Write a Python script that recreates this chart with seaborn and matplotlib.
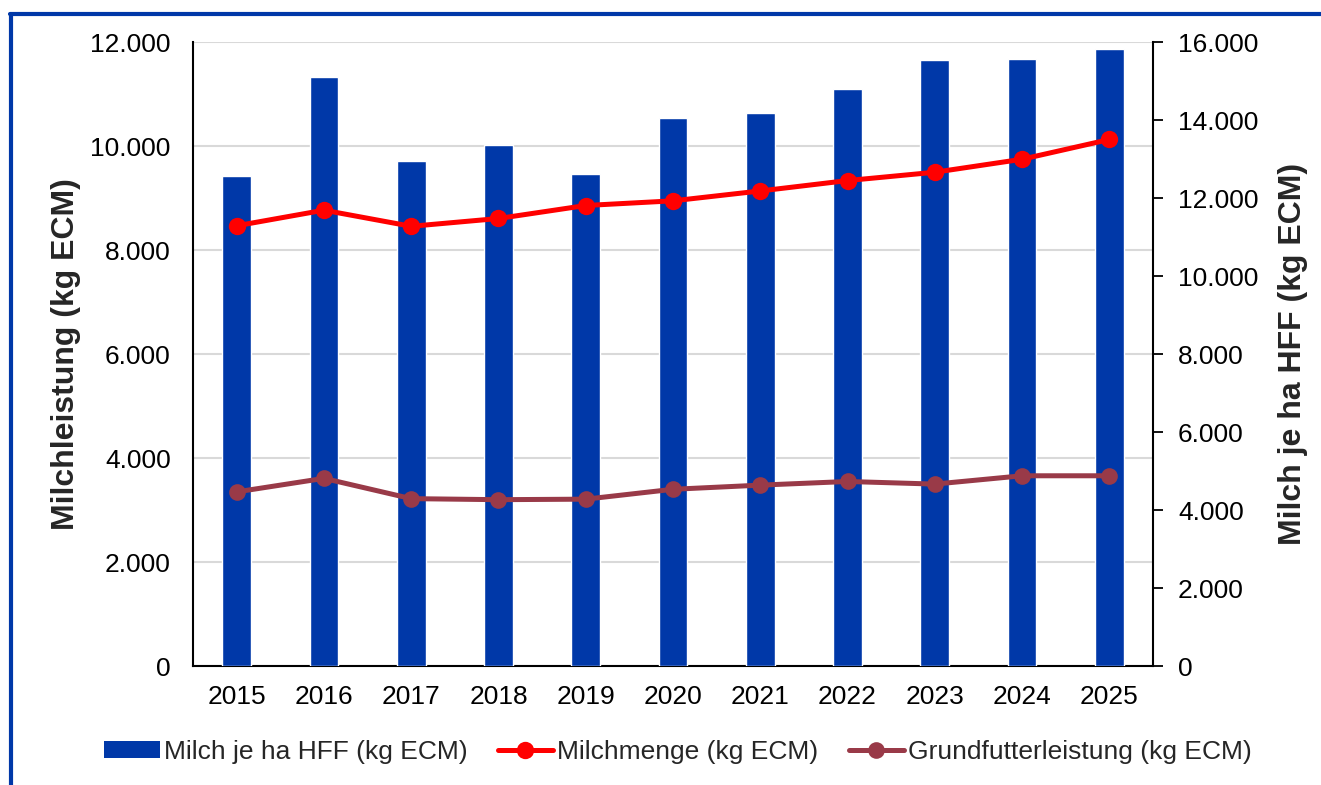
import numpy as np
import matplotlib
matplotlib.use("Agg")
import matplotlib.pyplot as plt
from matplotlib.ticker import FuncFormatter, MultipleLocator
from matplotlib.patches import Patch
from matplotlib.lines import Line2D
import seaborn as sns

# ---- data ----
years = ["2015", "2016", "2017", "2018", "2019", "2020", "2021", "2022", "2023", "2024", "2025"]
milch_je_ha = [12560, 15100, 12950, 13370, 12610, 14070, 14190, 14790, 15550, 15570, 15830]
milchmenge = [8470, 8770, 8460, 8610, 8860, 8950, 9140, 9340, 9500, 9750, 10130]
grundfutter = [3350, 3610, 3220, 3200, 3210, 3400, 3480, 3550, 3500, 3660, 3660]

label_bar = "Milch je ha HFF (kg ECM)"
label_red = "Milchmenge (kg ECM)"
label_brown = "Grundfutterleistung (kg ECM)"

c_bar = "#0038A8"
c_red = "#FF0000"
c_brown = "#993A48"

FS = 19

sns.set_style("white")
plt.rcParams["font.family"] = ["Liberation Sans", "DejaVu Sans"]

fig = plt.figure(figsize=(13.21, 7.85), dpi=100)
ax = fig.add_axes([193 / 1321, 1 - 666 / 785, 960 / 1321, (666 - 42.3) / 785])
ax2 = ax.twinx()
ax3 = ax.twinx()

fmt = FuncFormatter(lambda v, p: f"{v:,.0f}".replace(",", "."))

# bars on right axis
sns.barplot(x=years, y=milch_je_ha, ax=ax2, color=c_bar, width=0.33, saturation=1, zorder=2)

# lines on left scale
xpos = np.arange(len(years))
sns.lineplot(x=xpos, y=milchmenge, ax=ax3, color=c_red, marker="o", markersize=12.5,
             linewidth=3.6, markeredgewidth=0, zorder=3)
sns.lineplot(x=xpos, y=grundfutter, ax=ax3, color=c_brown, marker="o", markersize=12,
             linewidth=3.6, markeredgewidth=0, zorder=3)

# left axis
ax.set_ylim(0, 12000)
ax.yaxis.set_major_locator(MultipleLocator(2000))
ax.yaxis.set_major_formatter(fmt)
ax.grid(axis="y", color="#D9D9D9", linewidth=1.5)
ax.set_axisbelow(True)
ax.tick_params(axis="y", length=0, pad=16, labelsize=FS, colors="black")
ax.set_ylabel("Milchleistung (kg ECM)", fontsize=23, fontweight="bold", labelpad=7)

# right axis
ax2.set_ylim(0, 16000)
ax2.yaxis.set_major_locator(MultipleLocator(2000))
ax2.yaxis.set_major_formatter(fmt)
ax2.tick_params(axis="y", length=7, width=1.3, direction="out", pad=11, labelsize=FS,
                colors="black", right=True)
ax2.set_ylabel(label_bar, fontsize=23, fontweight="bold", labelpad=14)
ax2.set_xlabel("")

# hidden helper axis for lines
ax3.set_ylim(0, 12000)
ax3.axis("off")

for a in (ax, ax2, ax3):
    a.set_xlim(-0.5, len(years) - 0.5)
ax2.set_xticks(xpos)
ax2.set_xticklabels(years)
ax.tick_params(axis="x", length=0, pad=14, labelsize=FS, colors="black")
ax2.tick_params(axis="x", length=0, pad=14, labelsize=FS, colors="black")

for a in (ax, ax2):
    a.spines["top"].set_visible(False)
    for s in ("left", "right", "bottom"):
        a.spines[s].set_color("black")
        a.spines[s].set_linewidth(1.5)
ax.spines["right"].set_visible(False)
ax2.spines["left"].set_visible(False)
ax2.spines["bottom"].set_visible(False)

# legend
handles = [
    Patch(facecolor=c_bar, edgecolor="none"),
    Line2D([0], [0], color=c_red, lw=3.6, marker="o", markersize=12.5, markeredgewidth=0),
    Line2D([0], [0], color=c_brown, lw=3.6, marker="o", markersize=12, markeredgewidth=0),
]
fig.legend(handles, [label_bar, label_red, label_brown], loc="center",
           bbox_to_anchor=(678 / 1321, 1 - 752 / 785), ncol=3, frameon=False,
           fontsize=FS, handlelength=2.1, handletextpad=0.15, columnspacing=1.15,
           handleheight=0.6)

# blue frame (left and top)
fig.add_artist(Line2D([11 / 1321, 11 / 1321], [0, 1 - 13.5 / 785], color=c_bar, lw=3,
                      transform=fig.transFigure))
fig.add_artist(Line2D([9.5 / 1321, 1], [1 - 13.5 / 785, 1 - 13.5 / 785], color=c_bar, lw=3,
                      transform=fig.transFigure))

fig.savefig("out.png", dpi=100)
